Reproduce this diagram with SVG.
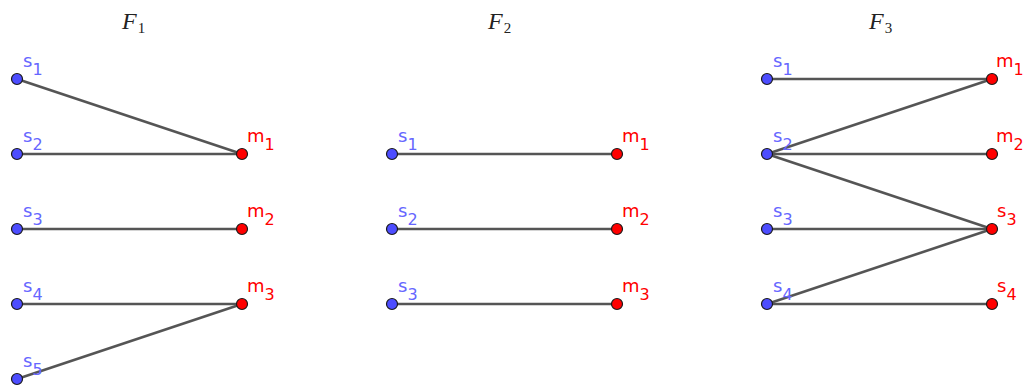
<svg xmlns="http://www.w3.org/2000/svg" width="1023" height="387" viewBox="0 0 1023 387">
<style>
.e{stroke:#555;stroke-width:2.6;stroke-linecap:round}
.s{fill:#4d4dff;stroke:#1a1a1a;stroke-width:1.2}
.m{fill:#ff0000;stroke:#1a1a1a;stroke-width:1.2}
.ls{font-family:"DejaVu Sans",sans-serif;font-size:18px;fill:#6666ff}
.lm{font-family:"DejaVu Sans",sans-serif;font-size:18px;fill:#ff0000}
.b{font-size:16px}
.t{font-family:"Liberation Serif",serif;font-style:italic;font-size:24px;fill:#222}
.ts{font-style:normal;font-size:15px}
</style>
<rect width="1023" height="387" fill="#fff"/>
<g id="titles">
<text class="t" x="122" y="29">F<tspan class="ts" dx="1" dy="4">1</tspan></text>
<text class="t" x="488" y="29">F<tspan class="ts" dx="1" dy="4">2</tspan></text>
<text class="t" x="869" y="29">F<tspan class="ts" dx="1" dy="4">3</tspan></text>
</g>
<g id="connectors">
<line class="e" x1="17" y1="79" x2="242" y2="154"/>
<line class="e" x1="17" y1="154" x2="242" y2="154"/>
<line class="e" x1="17" y1="229" x2="242" y2="229"/>
<line class="e" x1="17" y1="304" x2="242" y2="304"/>
<line class="e" x1="17" y1="379" x2="242" y2="304"/>
<line class="e" x1="392" y1="154" x2="617" y2="154"/>
<line class="e" x1="392" y1="229" x2="617" y2="229"/>
<line class="e" x1="392" y1="304" x2="617" y2="304"/>
<line class="e" x1="767" y1="79" x2="992" y2="79"/>
<line class="e" x1="767" y1="154" x2="992" y2="79"/>
<line class="e" x1="767" y1="154" x2="992" y2="154"/>
<line class="e" x1="767" y1="154" x2="992" y2="229"/>
<line class="e" x1="767" y1="229" x2="992" y2="229"/>
<line class="e" x1="767" y1="304" x2="992" y2="229"/>
<line class="e" x1="767" y1="304" x2="992" y2="304"/>
</g>
<g id="F1-s1"><circle class="s" cx="17" cy="79" r="5.5"/><text class="ls" x="23" y="67">s<tspan class="b" dy="8">1</tspan></text></g>
<g id="F1-s2"><circle class="s" cx="17" cy="154" r="5.5"/><text class="ls" x="23" y="142">s<tspan class="b" dy="8">2</tspan></text></g>
<g id="F1-s3"><circle class="s" cx="17" cy="229" r="5.5"/><text class="ls" x="23" y="217">s<tspan class="b" dy="8">3</tspan></text></g>
<g id="F1-s4"><circle class="s" cx="17" cy="304" r="5.5"/><text class="ls" x="23" y="292">s<tspan class="b" dy="8">4</tspan></text></g>
<g id="F1-s5"><circle class="s" cx="17" cy="379" r="5.5"/><text class="ls" x="23" y="367">s<tspan class="b" dy="8">5</tspan></text></g>
<g id="F1-m1"><circle class="m" cx="242" cy="154" r="5.5"/><text class="lm" x="247" y="142">m<tspan class="b" dy="8">1</tspan></text></g>
<g id="F1-m2"><circle class="m" cx="242" cy="229" r="5.5"/><text class="lm" x="247" y="217">m<tspan class="b" dy="8">2</tspan></text></g>
<g id="F1-m3"><circle class="m" cx="242" cy="304" r="5.5"/><text class="lm" x="247" y="292">m<tspan class="b" dy="8">3</tspan></text></g>
<g id="F2-s1"><circle class="s" cx="392" cy="154" r="5.5"/><text class="ls" x="398" y="142">s<tspan class="b" dy="8">1</tspan></text></g>
<g id="F2-s2"><circle class="s" cx="392" cy="229" r="5.5"/><text class="ls" x="398" y="217">s<tspan class="b" dy="8">2</tspan></text></g>
<g id="F2-s3"><circle class="s" cx="392" cy="304" r="5.5"/><text class="ls" x="398" y="292">s<tspan class="b" dy="8">3</tspan></text></g>
<g id="F2-m1"><circle class="m" cx="617" cy="154" r="5.5"/><text class="lm" x="622" y="142">m<tspan class="b" dy="8">1</tspan></text></g>
<g id="F2-m2"><circle class="m" cx="617" cy="229" r="5.5"/><text class="lm" x="622" y="217">m<tspan class="b" dy="8">2</tspan></text></g>
<g id="F2-m3"><circle class="m" cx="617" cy="304" r="5.5"/><text class="lm" x="622" y="292">m<tspan class="b" dy="8">3</tspan></text></g>
<g id="F3-s1"><circle class="s" cx="767" cy="79" r="5.5"/><text class="ls" x="773" y="67">s<tspan class="b" dy="8">1</tspan></text></g>
<g id="F3-s2"><circle class="s" cx="767" cy="154" r="5.5"/><text class="ls" x="773" y="142">s<tspan class="b" dy="8">2</tspan></text></g>
<g id="F3-s3"><circle class="s" cx="767" cy="229" r="5.5"/><text class="ls" x="773" y="217">s<tspan class="b" dy="8">3</tspan></text></g>
<g id="F3-s4"><circle class="s" cx="767" cy="304" r="5.5"/><text class="ls" x="773" y="292">s<tspan class="b" dy="8">4</tspan></text></g>
<g id="F3-m1"><circle class="m" cx="992" cy="79" r="5.5"/><text class="lm" x="996" y="67">m<tspan class="b" dy="8">1</tspan></text></g>
<g id="F3-m2"><circle class="m" cx="992" cy="154" r="5.5"/><text class="lm" x="996" y="142">m<tspan class="b" dy="8">2</tspan></text></g>
<g id="F3-s3r"><circle class="m" cx="992" cy="229" r="5.5"/><text class="lm" x="997" y="217">s<tspan class="b" dy="8">3</tspan></text></g>
<g id="F3-s4r"><circle class="m" cx="992" cy="304" r="5.5"/><text class="lm" x="997" y="292">s<tspan class="b" dy="8">4</tspan></text></g>
</svg>
